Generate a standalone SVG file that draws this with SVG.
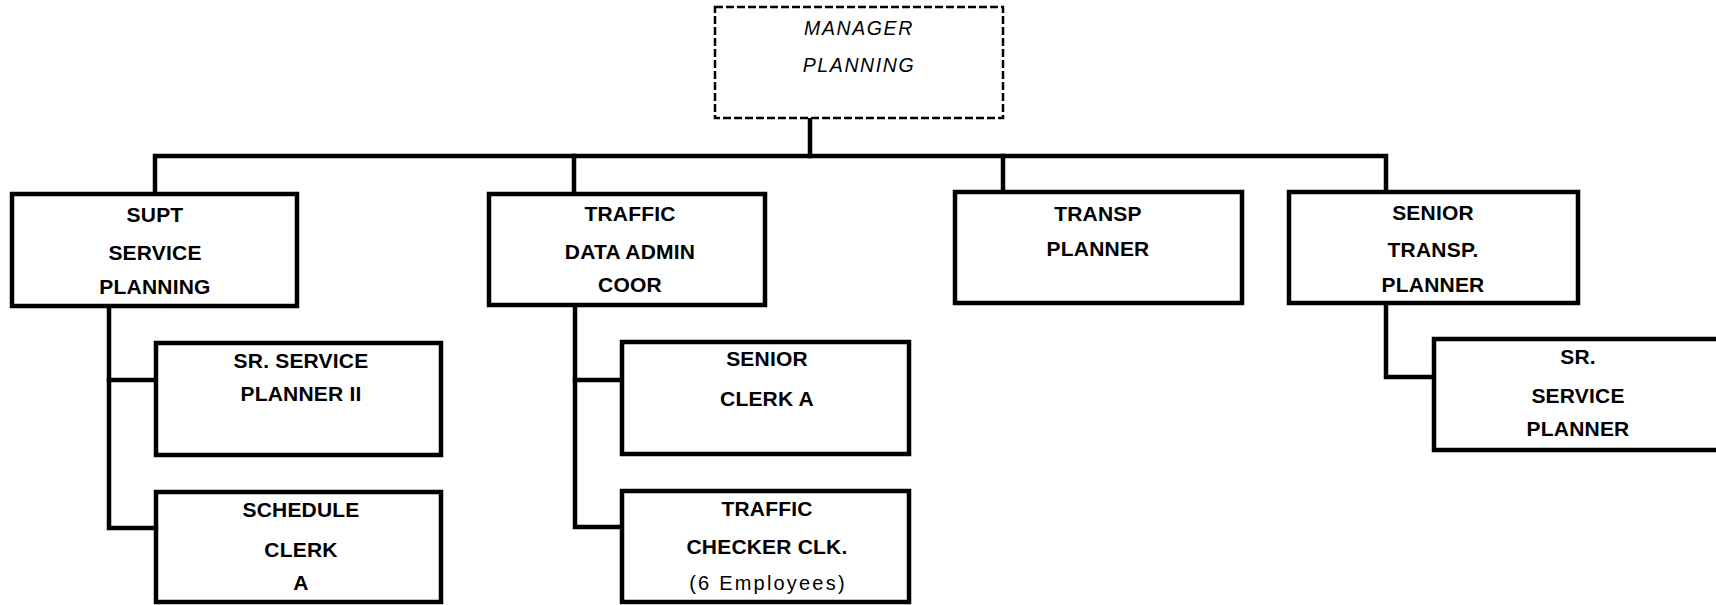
<svg xmlns="http://www.w3.org/2000/svg" width="1716" height="605" viewBox="0 0 1716 605">
  <style>
    .box { fill: #ffffff; stroke: #000000; stroke-width: 4.5; }
    .dash { fill: #ffffff; stroke: #000000; stroke-width: 2.5; stroke-dasharray: 8 3; }
    .wire { fill: none; stroke: #000000; stroke-width: 4.5; stroke-linejoin: miter; stroke-linecap: square; }
    .lbl { font-family: "Liberation Sans", Arial, sans-serif; font-size: 21px; font-weight: bold; fill: #000000; text-anchor: middle; letter-spacing: 0.2px; }
    .ital { font-family: "Liberation Sans", Arial, sans-serif; font-size: 19.5px; font-style: italic; fill: #000000; text-anchor: middle; letter-spacing: 1.6px; }
    .note { font-family: "Liberation Sans", Arial, sans-serif; font-size: 20px; fill: #000000; text-anchor: middle; letter-spacing: 2.2px; }
  </style>
  <rect width="1716" height="605" fill="#ffffff"/>

  <!-- reporting lines -->
  <g id="connectors">
    <path class="wire" d="M810 118 V156"/>
    <path class="wire" d="M155 194 V156 H1386 V192"/>
    <path class="wire" d="M574 156 V194"/>
    <path class="wire" d="M1003 156 V192"/>
    <path class="wire" d="M109 306 V528 H156"/>
    <path class="wire" d="M109 380 H156"/>
    <path class="wire" d="M575 306 V527 H622"/>
    <path class="wire" d="M575 380 H622"/>
    <path class="wire" d="M1386 303 V377 H1434"/>
  </g>

  <g id="manager-planning">
    <rect class="dash" x="715" y="7" width="288" height="111"/>
    <text class="ital" x="859" y="35">MANAGER</text>
    <text class="ital" x="859" y="72">PLANNING</text>
  </g>

  <g id="supt-service-planning">
    <rect class="box" x="12" y="194" width="285" height="112"/>
    <text class="lbl" x="155" y="222">SUPT</text>
    <text class="lbl" x="155" y="260">SERVICE</text>
    <text class="lbl" x="155" y="294">PLANNING</text>
  </g>

  <g id="sr-service-planner-ii">
    <rect class="box" x="156" y="343" width="285" height="112"/>
    <text class="lbl" x="301" y="368">SR. SERVICE</text>
    <text class="lbl" x="301" y="401">PLANNER II</text>
  </g>

  <g id="schedule-clerk-a">
    <rect class="box" x="156" y="492" width="285" height="110"/>
    <text class="lbl" x="301" y="517">SCHEDULE</text>
    <text class="lbl" x="301" y="557">CLERK</text>
    <text class="lbl" x="301" y="590">A</text>
  </g>

  <g id="traffic-data-admin-coor">
    <rect class="box" x="489" y="194" width="276" height="111"/>
    <text class="lbl" x="630" y="221">TRAFFIC</text>
    <text class="lbl" x="630" y="259">DATA ADMIN</text>
    <text class="lbl" x="630" y="292">COOR</text>
  </g>

  <g id="senior-clerk-a">
    <rect class="box" x="622" y="342" width="287" height="112"/>
    <text class="lbl" x="767" y="366">SENIOR</text>
    <text class="lbl" x="767" y="406">CLERK A</text>
  </g>

  <g id="traffic-checker-clk">
    <rect class="box" x="622" y="491" width="287" height="111"/>
    <text class="lbl" x="767" y="516">TRAFFIC</text>
    <text class="lbl" x="767" y="554">CHECKER CLK.</text>
    <text class="note" x="768" y="590">(6 Employees)</text>
  </g>

  <g id="transp-planner">
    <rect class="box" x="955" y="192" width="287" height="111"/>
    <text class="lbl" x="1098" y="221">TRANSP</text>
    <text class="lbl" x="1098" y="256">PLANNER</text>
  </g>

  <g id="senior-transp-planner">
    <rect class="box" x="1289" y="192" width="289" height="111"/>
    <text class="lbl" x="1433" y="220">SENIOR</text>
    <text class="lbl" x="1433" y="257">TRANSP.</text>
    <text class="lbl" x="1433" y="292">PLANNER</text>
  </g>

  <g id="sr-service-planner">
    <rect class="box" x="1434" y="339" width="290" height="111"/>
    <text class="lbl" x="1578" y="364">SR.</text>
    <text class="lbl" x="1578" y="403">SERVICE</text>
    <text class="lbl" x="1578" y="436">PLANNER</text>
  </g>
</svg>
